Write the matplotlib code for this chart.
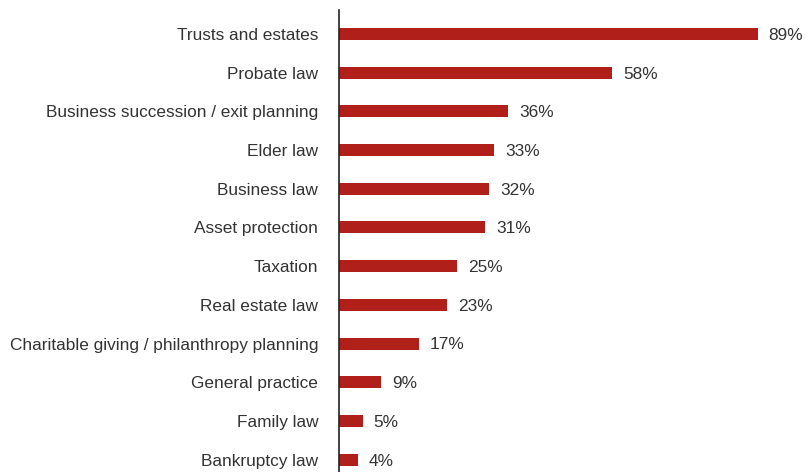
import matplotlib.pyplot as plt

# practice areas and share of respondents (%)
areas = [
    "Trusts and estates",
    "Probate law",
    "Business succession / exit planning",
    "Elder law",
    "Business law",
    "Asset protection",
    "Taxation",
    "Real estate law",
    "Charitable giving / philanthropy planning",
    "General practice",
    "Family law",
    "Bankruptcy law",
]
shares = [89, 58, 36, 33, 32, 31, 25, 23, 17, 9, 5, 4]

bar_color = "#B11F1A"
text_color = "#333333"

plt.rcParams["font.family"] = ["Liberation Sans", "DejaVu Sans"]

fig = plt.figure(figsize=(8.07, 4.72), dpi=100)
ax = fig.add_axes([339 / 807, 0, 466 / 807, 1 - 10 / 472])

pos = list(range(len(areas)))
ax.barh(pos, shares, height=0.31, color=bar_color)

for y, v in zip(pos, shares):
    ax.annotate(f"{v}%", xy=(v, y), xytext=(8, -1), textcoords="offset points",
                va="center", ha="left", fontsize=12.4, color=text_color)

ax.set_xlim(0, 99.1)
ax.set_ylim(11.32, -0.62)
ax.set_yticks(pos)
ax.set_yticklabels(areas, fontsize=12.4, color=text_color)
ax.tick_params(axis="y", length=0, pad=15)
ax.set_xticks([])

for side in ["top", "right", "bottom"]:
    ax.spines[side].set_visible(False)
ax.spines["left"].set_color("#222222")
ax.spines["left"].set_linewidth(1.2)

fig.savefig("out.png", dpi=100)
